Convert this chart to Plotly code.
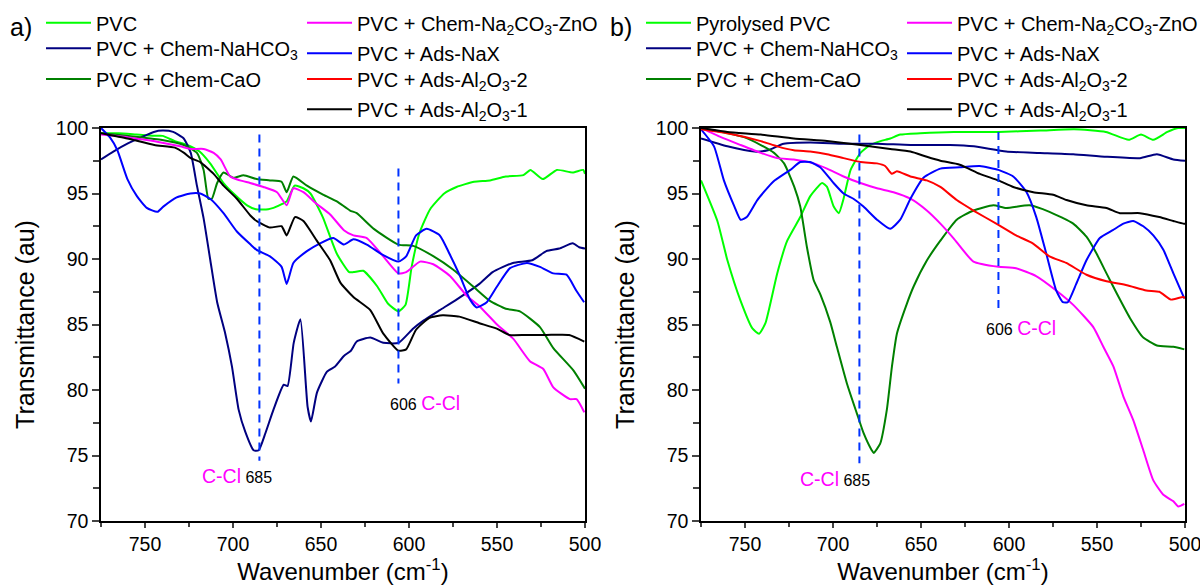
import plotly.graph_objects as go

# ---------------- data: panel a ----------------
a_pvc_wn = [775, 765, 755, 745, 740, 733, 726, 719, 713, 705.4, 699.7, 692, 687, 680, 677, 672, 669.5, 665, 660, 656, 649, 641, 634, 631.5, 626, 618, 612, 606, 602, 598.5, 594, 588, 580, 573, 563, 554, 545, 535, 531, 524, 516, 507, 501, 500]
a_pvc_t = [99.6, 99.6, 99.5, 99.4, 99.4, 99.0, 98.7, 98.2, 97.3, 95.8, 95.0, 94.1, 93.8, 93.8, 93.9, 94.2, 94.4, 95.6, 95.4, 95.0, 93.2, 90.4, 89.0, 89.0, 89.1, 87.9, 86.6, 86.0, 86.5, 89.4, 92.0, 93.8, 95.0, 95.5, 95.9, 96.0, 96.3, 96.4, 96.8, 96.1, 96.8, 96.6, 96.8, 96.5]

a_nahco3_wn = [775, 768, 760, 752, 745, 740, 734, 728, 724, 720.5, 716.7, 713, 709, 704.4, 700.6, 696.8, 693, 688.3, 685.4, 681.6, 677, 671.2, 669, 665.5, 661.7, 657.6, 655.7, 652.3, 646.6, 642, 637, 633, 629.7, 622, 614.6, 606, 597.6, 591.8, 582.5, 573, 560, 552.5, 541, 530, 522, 514.6, 507, 503.3, 500]
a_nahco3_t = [97.6, 98.2, 98.8, 99.3, 99.7, 99.8, 99.7, 99.2, 98.1, 95.6, 93.1, 90.0, 86.7, 84.3, 81.8, 78.5, 76.8, 75.4, 75.4, 76.7, 78.5, 80.4, 80.3, 83.6, 85.4, 78.7, 77.6, 79.8, 81.4, 81.8, 82.6, 83.0, 83.7, 84.0, 83.6, 83.6, 84.7, 85.3, 86.1, 86.9, 88.1, 89.0, 89.7, 89.9, 90.6, 90.8, 91.2, 90.9, 90.8]

a_cao_wn = [775, 760, 741, 728, 720.5, 716.7, 714, 712, 709, 705.4, 699.7, 694, 686.6, 679, 672.4, 669.5, 665.7, 658, 648.6, 641, 633.5, 629.7, 620, 606, 597.6, 586, 575, 563.5, 554, 545, 537, 525.6, 518, 506.6, 500]
a_cao_t = [99.6, 99.4, 99.1, 98.7, 98.1, 96.8, 94.6, 94.6, 95.8, 96.6, 96.2, 96.4, 96.1, 96.0, 95.9, 95.1, 96.3, 95.6, 94.9, 94.4, 93.7, 93.5, 92.3, 91.1, 91.0, 90.2, 89.2, 87.9, 86.8, 86.2, 86.0, 84.8, 83.2, 81.5, 80.1]

a_zno_wn = [775, 760, 750, 741, 730, 724, 716.7, 711, 707, 701.6, 696, 690.3, 682.7, 675, 669.5, 665.7, 660, 652.4, 644.8, 637, 631.6, 624, 614.6, 606, 601.6, 593.7, 586.2, 576.7, 567.2, 560, 550, 540.7, 531.3, 523.7, 518, 508.6, 504.8, 500.4]
a_zno_t = [99.5, 99.3, 99.1, 98.9, 98.6, 98.4, 98.4, 98.1, 97.6, 96.3, 96.0, 95.8, 95.5, 95.1, 94.1, 95.4, 95.1, 94.2, 93.4, 92.2, 91.8, 91.6, 90.2, 88.9, 89.0, 89.8, 89.6, 88.7, 87.2, 86.4, 85.0, 83.9, 82.2, 81.6, 80.2, 79.3, 79.3, 78.3]

a_nax_wn = [775, 770, 765.7, 760, 754.6, 749, 743, 739.6, 732, 724.3, 718.6, 713, 705.4, 697.8, 690, 686.6, 679, 672.4, 669.5, 665.7, 658, 650.5, 643, 637, 631.6, 624, 614.6, 606, 601.6, 596, 590, 582.5, 577, 571, 565.3, 561.5, 555.8, 550, 542.6, 533, 525.6, 518, 510.5, 505, 500.5]
a_nax_t = [100.0, 99.3, 98.3, 96.1, 94.8, 93.9, 93.6, 94.0, 94.7, 95.0, 95.0, 94.6, 93.5, 92.1, 91.1, 90.7, 90.2, 89.4, 88.1, 89.7, 90.6, 91.2, 91.6, 91.1, 91.5, 91.1, 90.3, 89.8, 90.2, 91.8, 92.3, 91.8, 90.4, 88.7, 86.9, 86.3, 86.7, 87.9, 89.3, 89.7, 89.4, 88.9, 88.8, 87.6, 86.7]

# Ads-Al2O3-2 has no visible curve in panel a (legend entry only)
a_al2_wn = [None]
a_al2_t = [None]

a_al1_wn = [775, 760, 744.7, 733, 727.8, 724, 718.6, 711, 705.4, 697.8, 690, 686.6, 679, 672.4, 669.5, 664.8, 660, 652.4, 644.8, 639, 631.6, 622, 614.6, 606, 601.6, 596, 588.4, 580.8, 571.4, 560, 550.5, 543, 533.5, 522, 509, 500.4]
a_al1_t = [99.6, 99.2, 98.7, 98.5, 98.1, 97.7, 97.4, 96.5, 95.6, 94.6, 93.3, 92.9, 92.4, 92.5, 91.8, 93.2, 92.9, 91.4, 89.9, 88.2, 87.1, 86.1, 84.3, 83.0, 83.1, 84.6, 85.5, 85.7, 85.6, 85.1, 84.7, 84.2, 84.2, 84.2, 84.2, 83.7]

# ---------------- data: panel b ----------------
b_pvc_wn = [775, 765.7, 760, 752.5, 745.8, 742, 738.4, 731.7, 726, 718.6, 712.9, 706.2, 703.4, 699.6, 696.7, 694, 690, 684.4, 679, 673, 667.5, 661.8, 650.5, 631.5, 606, 582, 563, 545, 532, 525, 518, 510, 504, 500]
b_pvc_t = [96.0, 92.9, 89.9, 86.8, 84.7, 84.3, 85.1, 88.9, 91.4, 93.2, 94.8, 95.8, 95.5, 94.0, 93.5, 94.6, 96.8, 98.1, 98.7, 99.0, 99.2, 99.5, 99.6, 99.7, 99.7, 99.8, 99.9, 99.7, 99.1, 99.5, 99.1, 99.7, 100.0, 100.0]

b_nahco3_wn = [775, 760, 744.7, 737, 728, 712.9, 694, 675, 656, 633.5, 620, 601.6, 582.5, 563.5, 544.6, 525.6, 516, 506.6, 500]
b_nahco3_t = [99.2, 98.6, 98.2, 98.3, 98.8, 98.9, 98.8, 98.8, 98.7, 98.7, 98.6, 98.2, 98.1, 98.0, 97.8, 97.7, 98.0, 97.6, 97.5]

b_cao_wn = [775, 760, 750.6, 741, 733.5, 727.8, 722, 718.6, 714.8, 711, 707.2, 701.6, 697.8, 692.1, 686.4, 682.6, 678, 676.9, 673.2, 669.4, 666.5, 663.7, 658, 654.2, 646.6, 639, 629.7, 620.2, 608.9, 601.6, 588.3, 577, 563.5, 556, 550.2, 544.6, 538.9, 531.3, 523.7, 516, 506.6, 500.4]
b_cao_t = [100.0, 99.6, 99.3, 98.7, 98.1, 97.3, 95.5, 94.0, 90.9, 88.4, 87.3, 85.2, 83.3, 80.5, 78.2, 76.7, 75.4, 75.2, 75.9, 78.5, 81.8, 84.3, 86.6, 87.9, 89.9, 91.4, 93.0, 93.7, 94.1, 93.9, 94.1, 93.6, 92.7, 91.7, 90.4, 88.9, 87.4, 85.5, 84.0, 83.4, 83.3, 83.1]

b_zno_wn = [775, 763.7, 752.5, 741, 731.7, 722.3, 711, 703.4, 694, 684.4, 675, 665.6, 656, 646.7, 639, 631.6, 620.2, 606, 596, 584.6, 573.2, 563.5, 552.1, 546.4, 540.7, 535, 529.4, 523.7, 518, 512.3, 506.6, 503.8, 500.4]
b_zno_t = [100.0, 99.3, 98.7, 98.1, 97.7, 97.6, 97.3, 96.9, 96.3, 95.8, 95.4, 95.1, 94.6, 93.7, 92.7, 91.6, 89.8, 89.4, 89.3, 88.7, 87.6, 86.5, 84.8, 83.3, 81.8, 79.5, 77.7, 75.4, 73.1, 72.0, 71.5, 71.1, 71.3]

b_nax_wn = [775, 767.6, 762, 756, 752.5, 749, 743, 734, 724.3, 718.6, 713, 707.3, 699.7, 694, 688.4, 682.7, 675, 667.5, 661.8, 656, 648.6, 639, 628, 616.6, 606, 597.6, 590, 584.5, 578.8, 573.2, 569.4, 566.6, 561.8, 556, 548.4, 541, 535, 529.4, 523.7, 518, 512.3, 506.6, 500.4]
b_nax_t = [99.9, 98.6, 96.0, 94.0, 93.0, 93.2, 94.5, 95.9, 96.8, 97.4, 97.4, 97.0, 95.8, 95.0, 94.6, 94.0, 93.0, 92.3, 93.0, 94.6, 96.2, 96.9, 97.0, 97.1, 96.8, 96.3, 95.1, 93.2, 90.4, 87.6, 86.7, 86.7, 88.1, 89.9, 91.6, 92.2, 92.7, 92.9, 92.5, 91.8, 90.7, 88.9, 87.0]

b_al2_wn = [775, 760, 741, 731.7, 722.3, 713, 703.4, 694, 684.4, 675, 670.4, 666.6, 663.7, 656, 646.7, 639, 629.7, 620.2, 606, 596, 586.5, 577, 567.5, 556, 544.6, 533, 522, 514.6, 508, 501, 500]
b_al2_t = [99.9, 99.6, 99.0, 98.6, 98.3, 98.2, 98.0, 97.7, 97.4, 97.3, 97.1, 96.5, 96.7, 96.3, 96.0, 95.5, 94.5, 93.7, 92.6, 91.8, 91.2, 90.2, 89.7, 88.8, 88.3, 88.0, 87.6, 87.5, 86.9, 87.1, 87.0]

b_al1_wn = [775, 760, 741, 722.3, 703.4, 684.4, 667.5, 656, 646.7, 639, 628, 616.6, 606, 597.6, 586.2, 574.9, 567.3, 556, 544.6, 537, 525.6, 514.6, 506.6, 501, 500]
b_al1_t = [100.0, 99.7, 99.5, 99.2, 99.0, 98.7, 98.4, 98.2, 97.8, 97.5, 97.2, 96.5, 96.0, 95.5, 95.1, 94.9, 94.5, 94.1, 93.9, 93.5, 93.5, 93.2, 92.9, 92.7, 92.7]

# names / colours
names_a = ["PVC", "PVC + Chem-NaHCO<sub>3</sub>", "PVC + Chem-CaO",
           "PVC + Chem-Na<sub>2</sub>CO<sub>3</sub>-ZnO", "PVC + Ads-NaX",
           "PVC + Ads-Al<sub>2</sub>O<sub>3</sub>-2", "PVC + Ads-Al<sub>2</sub>O<sub>3</sub>-1"]
names_b = ["Pyrolysed PVC"] + names_a[1:]
colors = ["#00ff00", "#000080", "#008000", "#ff00ff", "#0000ff", "#ff0000", "#000000"]

series_a = [(a_pvc_wn, a_pvc_t), (a_nahco3_wn, a_nahco3_t), (a_cao_wn, a_cao_t),
            (a_zno_wn, a_zno_t), (a_nax_wn, a_nax_t), (a_al2_wn, a_al2_t), (a_al1_wn, a_al1_t)]
series_b = [(b_pvc_wn, b_pvc_t), (b_nahco3_wn, b_nahco3_t), (b_cao_wn, b_cao_t),
            (b_zno_wn, b_zno_t), (b_nax_wn, b_nax_t), (b_al2_wn, b_al2_t), (b_al1_wn, b_al1_t)]

# peak markers: (wavenumber, T top, T bottom)
peaks_a = [(685, 99.5, 74.6), (606, 96.9, 80.5)]
peaks_b = [(685, 99.5, 74.4), (606, 99.7, 86.0)]
# peak labels: (wn, T, number, order)
labels_a = [(697.7, 73.4, "685", "cl_first"), (591.0, 79.0, "606", "num_first")]
labels_b = [(699.0, 73.2, "685", "cl_first"), (593.0, 84.7, "606", "num_first")]

W, H = 1200, 586
FONT = "Arial, Liberation Sans, sans-serif"

def px(x):
    return x / W

def py(y):
    return 1 - y / H

# legend item positions (pixel: line start x, line centre y)
leg_pos_cols = [(46, 22.7), (46, 48.3), (46, 79), (307, 22.7), (307, 53.3), (307, 79), (307, 109.3)]

fig = go.Figure()
layout_legends = {}
leg_idx = 0
for panel, (series, names, xa, ya, xoff) in enumerate([
        (series_a, names_a, "x", "y", 0), (series_b, names_b, "x2", "y2", 600)]):
    for i, ((wn, t), nm) in enumerate(zip(series, names)):
        leg_idx += 1
        lname = "legend" if leg_idx == 1 else f"legend{leg_idx}"
        fig.add_trace(go.Scatter(
            x=wn, y=t, mode="lines", name=nm, xaxis=xa, yaxis=ya,
            line=dict(color=colors[i], width=2, shape="spline", smoothing=0.5),
            legend=lname, showlegend=True))
        lx, ly = leg_pos_cols[i]
        layout_legends[lname] = dict(
            x=px(lx + xoff - 5), y=py(ly), xanchor="left", yanchor="middle",
            bgcolor="rgba(0,0,0,0)", font=dict(family=FONT, size=20, color="black"),
            itemwidth=45, borderwidth=0)

# dashed peak lines
for peaks, xa, ya in [(peaks_a, "x", "y"), (peaks_b, "x2", "y2")]:
    for wn, t0, t1 in peaks:
        fig.add_trace(go.Scatter(
            x=[wn, wn], y=[t0, t1], mode="lines", xaxis=xa, yaxis=ya, showlegend=False,
            line=dict(color="#0033ff", width=2, dash="8px,6px"), hoverinfo="skip"))

annotations = []
for labels, xr, yr in [(labels_a, "x", "y"), (labels_b, "x2", "y2")]:
    for wn, t, num, order in labels:
        cl = "<span style='color:#ff00ff;font-size:19.5px'>C-Cl</span>"
        nb = "<span style='font-size:16px'>" + num + "</span>"
        txt = cl + " " + nb if order == "cl_first" else nb + " " + cl
        annotations.append(dict(x=wn, y=t, xref=xr, yref=yr, text=txt, showarrow=False,
                                xanchor="center", yanchor="middle",
                                font=dict(family=FONT, size=16, color="black")))

annotations.append(dict(x=px(21), y=py(27), xref="paper", yref="paper", text="a)",
                        xanchor="center", yanchor="middle", showarrow=False,
                        font=dict(family=FONT, size=25, color="black")))
annotations.append(dict(x=px(621), y=py(27), xref="paper", yref="paper", text="b)",
                        xanchor="center", yanchor="middle", showarrow=False,
                        font=dict(family=FONT, size=25, color="black")))

x_ticks = [750, 700, 650, 600, 550, 500]
y_ticks = [70, 75, 80, 85, 90, 95, 100]

def xaxis(dom, anchor):
    return dict(domain=dom, anchor=anchor, range=[775, 500], autorange=False,
                tickvals=x_ticks, ticks="outside", ticklen=5, tickwidth=1.5,
                ticklabeloverflow="allow",
                minor=dict(dtick=25, tick0=500, ticks="outside", ticklen=4, tickwidth=1.5, showgrid=False),
                showline=True, linecolor="black", linewidth=1.5, mirror=True,
                showgrid=False, zeroline=False,
                tickfont=dict(family=FONT, size=19.5, color="black"),
                title=dict(text="Wavenumber (cm<sup>-1</sup>)", standoff=2,
                           font=dict(family=FONT, size=24, color="black")))

def yaxis(dom, anchor):
    return dict(domain=dom, anchor=anchor, range=[70, 100], autorange=False,
                tickvals=y_ticks, ticks="outside", ticklen=7, tickwidth=1.5,
                ticklabeloverflow="allow",
                minor=dict(dtick=2.5, tick0=70, ticks="outside", ticklen=6, tickwidth=1.5, showgrid=False),
                showline=True, linecolor="black", linewidth=1.5, mirror=True,
                showgrid=False, zeroline=False,
                tickfont=dict(family=FONT, size=19.5, color="black"),
                title=dict(text="Transmittance (au)", standoff=14,
                           font=dict(family=FONT, size=25, color="black")))

ydom = [1 - 521 / H, 1 - 128 / H]
fig.update_layout(
    width=W, height=H, margin=dict(l=0, r=0, t=0, b=0, autoexpand=False),
    paper_bgcolor="white", plot_bgcolor="white",
    showlegend=True,
    xaxis=xaxis([px(101), px(585)], "y"),
    yaxis=yaxis(ydom, "x"),
    xaxis2=xaxis([px(701), px(1185)], "y2"),
    yaxis2=yaxis(ydom, "x2"),
    annotations=annotations,
    font=dict(family=FONT, color="black"),
    **layout_legends,
)

fig.write_html("out.html")
